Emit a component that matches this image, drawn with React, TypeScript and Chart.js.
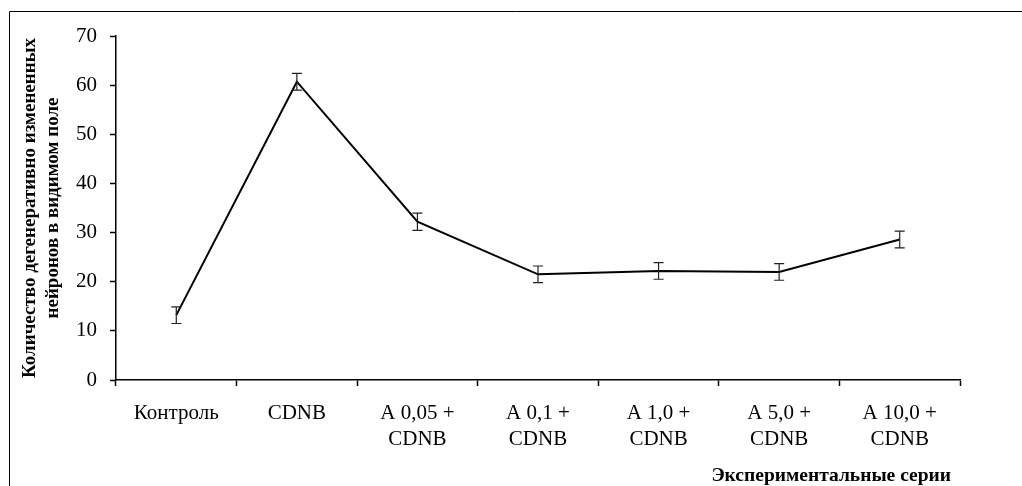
import React, { useEffect, useRef } from "react";
import { Chart, registerables } from "chart.js";

Chart.register(...registerables);

const categories: (string | string[])[] = [
  "Контроль",
  "CDNB",
  ["A 0,05 +", "CDNB"],
  ["A 0,1 +", "CDNB"],
  ["A 1,0 +", "CDNB"],
  ["A 5,0 +", "CDNB"],
  ["A 10,0 +", "CDNB"],
];
const values = [13.2, 60.7, 32.2, 21.5, 22.2, 22.0, 28.6];
const errors = [1.7, 1.7, 1.75, 1.7, 1.7, 1.7, 1.7];
const yTitle = ["Количество дегенеративно измененных", "нейронов в видимом поле"];
const xTitle = "Экспериментальные серии";

const FONT = "'Liberation Serif', 'Times New Roman', serif";

const errorBarPlugin = {
  id: "errorBars",
  afterDatasetsDraw(chart: any) {
    const ctx = chart.ctx;
    const meta = chart.getDatasetMeta(0);
    const y = chart.scales.y;
    ctx.save();
    ctx.strokeStyle = "#222";
    ctx.lineWidth = 1.2;
    meta.data.forEach((pt: any, i: number) => {
      const x = pt.x;
      const top = y.getPixelForValue(values[i] + errors[i]);
      const bot = y.getPixelForValue(values[i] - errors[i]);
      ctx.beginPath();
      ctx.moveTo(x, top);
      ctx.lineTo(x, bot);
      ctx.moveTo(x - 5, top);
      ctx.lineTo(x + 5, top);
      ctx.moveTo(x - 5, bot);
      ctx.lineTo(x + 5, bot);
      ctx.stroke();
    });
    ctx.restore();
  },
};

const framePlugin = {
  id: "frame",
  afterDraw(chart: any) {
    const ctx = chart.ctx;
    ctx.save();
    ctx.strokeStyle = "#000";
    ctx.lineWidth = 1;
    ctx.beginPath();
    ctx.moveTo(9.5, 486);
    ctx.lineTo(9.5, 11.5);
    ctx.lineTo(1022, 11.5);
    ctx.stroke();
    ctx.restore();
  },
};

const xTitlePlugin = {
  id: "xTitle",
  afterDraw(chart: any) {
    const ctx = chart.ctx;
    ctx.save();
    ctx.fillStyle = "#000";
    ctx.font = `bold 19.5px ${FONT}`;
    ctx.textAlign = "right";
    ctx.textBaseline = "middle";
    ctx.fillText(xTitle, chart.chartArea.right - 9, 476);
    ctx.restore();
  },
};

export default function App() {
  const ref = useRef<HTMLCanvasElement | null>(null);
  useEffect(() => {
    if (!ref.current) return;
    const chart = new Chart(ref.current, {
      type: "line",
      data: {
        labels: categories,
        datasets: [
          {
            data: values,
            borderColor: "#000",
            borderWidth: 2,
            pointRadius: 0,
            tension: 0,
            fill: false,
          },
        ],
      },
      options: {
        animation: false,
        responsive: false,
        maintainAspectRatio: false,
        layout: { padding: { top: 36, right: 62, left: 0, bottom: 0 } },
        plugins: { legend: { display: false }, tooltip: { enabled: false } },
        scales: {
          x: {
            offset: true,
            afterFit: (s: any) => {
              s.height = 106;
            },
            grid: {
              offset: true,
              drawOnChartArea: false,
              drawTicks: true,
              tickLength: 6,
              tickColor: "#000",
              tickWidth: 1.5,
            },
            border: { color: "#000", width: 1.5 },
            ticks: {
              color: "#000",
              font: { family: FONT, size: 21, lineHeight: "26px" as any },
              padding: 14,
              maxRotation: 0,
              autoSkip: false,
            },
            title: { display: false },
          },
          y: {
            min: 0,
            max: 70,
            afterFit: (s: any) => {
              s.width = 116;
            },
            grid: {
              drawOnChartArea: false,
              drawTicks: true,
              tickLength: 6,
              tickColor: "#000",
              tickWidth: 1.5,
            },
            border: { color: "#000", width: 1.5 },
            ticks: {
              stepSize: 10,
              color: "#000",
              font: { family: FONT, size: 21 },
              padding: 13,
            },
            title: {
              display: true,
              text: yTitle,
              color: "#000",
              font: { family: FONT, size: 19, weight: "bold", lineHeight: "23px" as any },
              padding: { top: 19, bottom: 0 },
            },
          },
        },
      },
      plugins: [errorBarPlugin, framePlugin, xTitlePlugin],
    });
    return () => chart.destroy();
  }, []);
  return (
    <div style={{ position: "fixed", left: 0, top: 0, width: 1022, height: 486, background: "#fff" }}>
      <canvas ref={ref} width={1022} height={486} style={{ width: 1022, height: 486 }} />
    </div>
  );
}
